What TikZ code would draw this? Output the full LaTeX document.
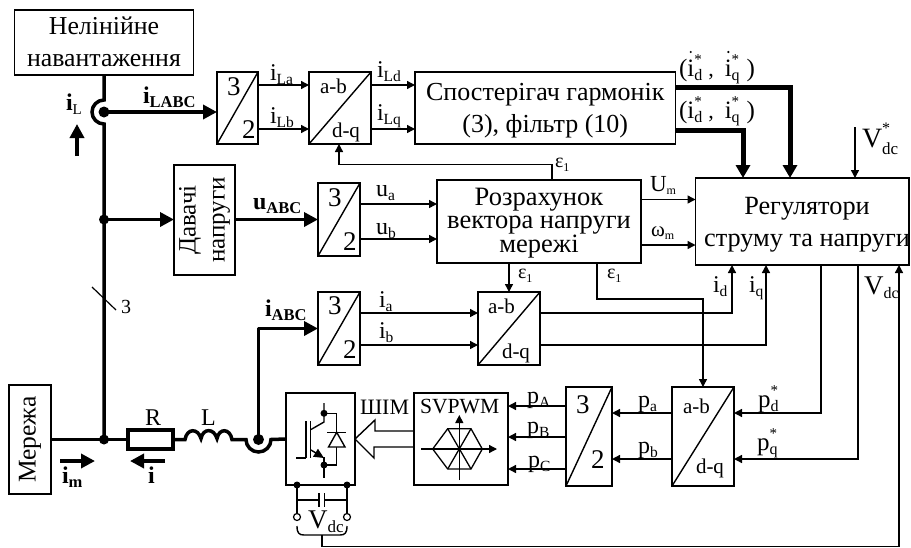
\documentclass[tikz,border=0pt]{standalone}
\usepackage{fontspec}
\setmainfont{Liberation Serif}
\usetikzlibrary{arrows.meta,calc}
\newcommand\fs[1]{\fontsize{#1}{#1}\selectfont}
% base with subscript
\newcommand\lb[2]{{\fs{24}#1\raisebox{-4pt}{\fs{15.5}#2}}}
\newcommand\lbb[2]{{\fs{24}\bfseries #1\raisebox{-4pt}{\fs{16.5}#2}}}
% base, sub, sup
\newcommand\lss[3]{{\fs{25}#1\rlap{\raisebox{12pt}{\fs{15}#3}}\raisebox{-4pt}{\fs{16}#2}}}
\newcommand\eps{{\fs{20}ε\raisebox{-4pt}{\fs{12}1}}}
\tikzset{
  x=1pt,y=-1pt,
  blk/.style={draw,line width=1.8pt,fill=white,inner sep=0pt,outer sep=0pt,align=center},
  lab/.style={inner sep=0pt,outer sep=0pt,anchor=base west},
  thin1/.style={line width=1.4pt},
  arr/.style={line width=1.4pt,-{Triangle[length=8pt,width=8pt]}},
  tarr/.style={line width=3.6pt,-{Triangle[length=14pt,width=14pt]}},
  harr/.style={line width=5pt,-{Triangle[length=13pt,width=14pt]}},
  busl/.style={line width=3.5pt},
  num/.style={lab,font=\fontsize{27}{27}\selectfont},
  abl/.style={lab,font=\fontsize{21}{21}\selectfont},
  txt/.style={inner sep=0pt,outer sep=0pt,align=center},
}
\begin{document}
\begin{tikzpicture}
\useasboundingbox (0,0) rectangle (911,547);
% blocks
\node[blk,font=\fontsize{25.8}{32}\selectfont,minimum width=179pt,minimum height=65pt] (load) at (104,42.25) {Нелінійне\\навантаження};
\node[blk,minimum width=41pt,minimum height=72pt] (tt1) at (237.5,108) {};
\node[blk,minimum width=62pt,minimum height=72pt] (ab1) at (340,108) {};
\node[blk,minimum width=260.5pt,minimum height=72pt] (obs) at (545.25,108) {};
\node[txt,font=\fontsize{26}{32}\selectfont] (obst) at (545.25,110.5) {Спостерігач гармонік\\(3), фільтр (10)};
\node[blk,minimum width=213.5pt,minimum height=87pt] (reg) at (802.25,221.5) {};
\node[txt,font=\fontsize{26.3}{32}\selectfont] (regt) at (807,224.5) {Регулятори\\струму та напруги};
\node[blk,minimum width=204pt,minimum height=83pt] (calc) at (539,221.5) {};
\node[txt,font=\fontsize{26.5}{23.5}\selectfont] (calct) at (539,223) {Розрахунок\\вектора напруги\\мережі};
\node[blk,minimum width=61pt,minimum height=110pt] (dav) at (204.5,220) {};
\node[font=\fontsize{25}{29}\selectfont,rotate=90,align=center,inner sep=0pt] (davt) at (204.5,220) {Давачі\\напруги};
\node[blk,minimum width=42pt,minimum height=73pt] (tt2) at (339,219.5) {};
\node[blk,minimum width=42pt,minimum height=73pt] (tt3) at (339,328.5) {};
\node[blk,minimum width=62pt,minimum height=73pt] (ab3) at (509,328.5) {};
\node[blk,minimum width=62pt,minimum height=99pt] (ab4) at (703,436.5) {};
\node[blk,minimum width=46pt,minimum height=99pt] (tt4) at (589,436.5) {};
\node[blk,minimum width=94pt,minimum height=92pt] (svp) at (461,439) {};
\node[blk,minimum width=69pt,minimum height=92pt] (inv) at (320.5,439) {};
\node[blk,minimum width=42pt,minimum height=109pt] (mains) at (30,439.5) {};
\node[font=\fontsize{25.5}{26}\selectfont,rotate=90,inner sep=0pt] (mainst) at (30,439.5) {Мережа};
% diagonals
\foreach \b in {tt1,ab1,tt2,tt3,ab3,ab4,tt4}{\draw[thin1] (\b.south west) -- (\b.north east);}
% junctions
\coordinate (j0) at (104,112);
\coordinate (j1) at (104,219.5);
\coordinate (j3) at (104,439.5);
\coordinate (j2) at (258.5,439.5);
% main bus
\draw[busl] (load.south) -- ([yshift=12pt]j0) arc[start angle=90,end angle=270,radius=12pt] -- (j3);
\fill (j0) circle[radius=5.5pt];
\fill (j1) circle[radius=5pt];
\fill (j3) circle[radius=5pt];
\draw[busl] (mains.east) -- ++(77,0) coordinate (rw);
\node[draw,line width=3.5pt,fill=white,inner sep=0pt,outer sep=0pt,minimum width=45pt,minimum height=19pt] (rr) at (150.5,439.5) {};
% coil and jump
\draw[busl] (rr.east) -- (185,439.5)
  .. controls (187,428) and (198,428) .. (201,438.5)
  .. controls (203,428) and (214,428) .. (217,438.5)
  .. controls (219,428) and (230,428) .. (232,439.5)
  -- ([xshift=-12.5pt]j2) arc[start angle=180,end angle=360,radius=12.5pt] -- (inv.west);
\fill (j2) circle[radius=5.5pt];
\draw[tarr,line join=round] (j2) |- (tt3.west);
\draw[tarr] (j0) -- (j0 -| tt1.west);
\draw[tarr] (j1) -- (j1 -| dav.west);
\draw[tarr] (j1 -| dav.east) -- (j1 -| tt2.west);
% slash
\coordinate (sa) at (92,287); \coordinate (sb) at (116,310);
\draw[line width=1.2pt] (sa) -- (sb);
% current arrows
\coordinate (ila) at (77,156); \coordinate (ilb) at (77,124);
\coordinate (ima) at (60,461); \coordinate (imb) at (95,461);
\coordinate (ira) at (165,461); \coordinate (irb) at (130,461);
\draw[tarr] (ila) -- (ilb);
\draw[tarr] (ima) -- (imb);
\draw[tarr] (ira) -- (irb);
% thin connectors
\draw[arr] ([yshift=-13pt]tt1.north east) coordinate (a) -- (a -| ab1.west);
\draw[arr] ([yshift=-57pt]tt1.north east) coordinate (a) -- (a -| ab1.west);
\draw[arr] ([yshift=-13pt]ab1.north east) coordinate (a) -- (a -| obs.west);
\draw[arr] ([yshift=-57pt]ab1.north east) coordinate (a) -- (a -| obs.west);
\draw[harr] ([yshift=-15pt]obs.north east) -| ([xshift=94.5pt]reg.north west);
\draw[harr] ([yshift=-58pt]obs.north east) -| ([xshift=47.5pt]reg.north west);
\coordinate (vs) at (855,127);
\draw[arr] (vs) -- (vs |- reg.north);
\draw[arr] ([xshift=115pt]calc.north west) -- ++(0,-15.5) -| ([xshift=30pt]ab1.south west);
\draw[arr] ([yshift=-21pt]tt2.north east) coordinate (a) -- (a -| calc.west);
\draw[arr] ([yshift=-56pt]tt2.north east) coordinate (a) -- (a -| calc.west);
\draw[arr] ([yshift=-19.5pt]calc.north east) coordinate (a) -- (a -| reg.west);
\draw[arr] ([yshift=-65pt]calc.north east) coordinate (a) -- (a -| reg.west);
\draw[arr] (ab3.north |- calc.south) -- (ab3.north);
\draw[arr] ([xshift=160pt]calc.south west) -- ++(0,36) -| (ab4.north);
\draw[arr] ([yshift=-21pt]tt3.north east) coordinate (a) -- (a -| ab3.west);
\draw[arr] ([yshift=-53pt]tt3.north east) coordinate (a) -- (a -| ab3.west);
\draw[arr] ([yshift=-21pt]ab3.north east) -| ([xshift=36.5pt]reg.south west);
\draw[arr] ([yshift=-53pt]ab3.north east) -| ([xshift=70.5pt]reg.south west);
\draw[arr] ([xshift=125.5pt]reg.south west) |- ([yshift=-26pt]ab4.north east);
\draw[arr] ([xshift=162.5pt]reg.south west) |- ([yshift=-72pt]ab4.north east);
\draw[arr] ([yshift=-26pt]ab4.north west) coordinate (a) -- (a -| tt4.east);
\draw[arr] ([yshift=-72pt]ab4.north west) coordinate (a) -- (a -| tt4.east);
\draw[arr] ([yshift=-19pt]tt4.north west) coordinate (a) -- (a -| svp.east);
\draw[arr] ([yshift=-50pt]tt4.north west) coordinate (a) -- (a -| svp.east);
\draw[arr] ([yshift=-82pt]tt4.north west) coordinate (a) -- (a -| svp.east);
% hollow arrow
\draw[thin1,line join=miter] ([yshift=8pt]svp.west) -- ++(-39,0) -- ++(0,-11) -- (inv.east) -- ++(19,19) -- ++(0,-11) -- ([yshift=-8pt]svp.west);
% SVPWM icon
\draw[line width=1.3pt] (432.7,449) -- (447.7,428.7) -- (471,428.7) -- (482.3,449) -- (471,469) -- (447.7,469) -- cycle;
\draw[line width=1.3pt] (447.7,428.7) -- (471,469) (471,428.7) -- (447.7,469);
\draw[arr,line width=1.3pt] (421,449) -- (497,449);
\draw[arr,line width=1.3pt] (459.3,480) -- (459.3,415);
% IGBT
\draw[thin1] (324,403) -- (324,422) -- (311,429.5);
\draw[thin1] (306,421) -- (306,458) (310.5,421) -- (310.5,458);
\draw[thin1] (296,458) -- (306,458);
\draw[thin1,-{Triangle[length=10pt,width=9pt]}] (311,450) -- (324,458);
\draw[thin1] (324,457) -- (324,478);
\draw[thin1] (324,413.3) -- (336.7,413.3) -- (336.7,465) -- (324,465);
\draw[thin1,fill=white] (336.7,432.3) -- (328.5,447) -- (345,447) -- cycle;
\draw[thin1] (327,432.3) -- (346,432.3);
\fill (324,413.3) circle[radius=3.5pt];
\fill (324,465) circle[radius=3.5pt];
% capacitor and terminals
\coordinate (k1) at ([xshift=11pt]inv.south west);
\coordinate (k2) at ([xshift=61pt]inv.south west);
\coordinate (t1) at (297,517); \coordinate (t2) at (347,517);
\draw[thin1] (k1) -- (t1) (k2) -- (t2);
\draw[thin1] (297,500) -- (319,500) (319,493) -- (319,507) (324.5,493) -- (324.5,507) (324.5,500) -- (347,500);
\fill (k1) circle[radius=3.5pt];
\fill (k2) circle[radius=3.5pt];
\draw[line width=1.2pt,fill=white] (t1) circle[radius=3.5pt];
\draw[line width=1.2pt,fill=white] (t2) circle[radius=3.5pt];
\draw[thin1] (297,526) .. controls (297,533) and (299,535) .. (304,535) -- (340,535) .. controls (345,535) and (347,533) .. (347,526);
\coordinate (fb) at (322,535);
\draw[arr] (fb) |- (600,546.2) -| ([xshift=203.5pt]reg.south west);
% numerals in converters
\node[num] (n1) at (227,95) {3}; \node[num] (n2) at (242,138) {2};
\node[num] (n3) at (328,206) {3}; \node[num] (n4) at (343,250) {2};
\node[num] (n5) at (328,314) {3}; \node[num] (n6) at (343,358) {2};
\node[num] (n7) at (576,413) {3}; \node[num] (n8) at (591,468) {2};
\node[abl] (a1) at (320,93) {a-b}; \node[abl] (d1) at (332,137) {d-q};
\node[abl] (a3) at (488,313) {a-b}; \node[abl] (d3) at (502,358) {d-q};
\node[abl] (a4) at (683,413) {a-b}; \node[abl] (d4) at (696,473) {d-q};
% labels
\node[lab] (l1) at (66,110) {\lbb{i}{\fs{15}\normalfont L}};
\node[lab] (l2) at (143,103) {\lbb{i}{LABC}};
\node[lab] (l3) at (270,80) {\lb{i}{La}};
\node[lab] (l4) at (270,123) {\lb{i}{Lb}};
\node[lab] (l5) at (377,77) {\lb{i}{Ld}};
\node[lab] (l6) at (377,120) {\lb{i}{Lq}};
\node[lab] (l7) at (679,76.5) {{\fs{25}(}\lss{i}{d}{*}\hspace{6pt}{\fs{22},}\hspace{11pt}\lss{i}{q}{*}\hspace{7pt}{\fs{25})}};
\fill (690.7,52) circle[radius=1.2pt];
\fill (728.3,52) circle[radius=1.2pt];
\node[lab] (l8) at (679,118) {{\fs{25}(}\lss{i}{d}{*}\hspace{6pt}{\fs{22},}\hspace{11pt}\lss{i}{q}{*}\hspace{7pt}{\fs{25})}};
\node[lab] (l9) at (862,147) {{\fs{28}V}\rlap{\raisebox{14pt}{\fs{16}*}}\raisebox{-7pt}{\fs{17}dc}};
\node[lab] (l10) at (650,191) {{\fs{23}U}\raisebox{-3pt}{\fs{12}m}};
\node[lab] (l11) at (651,236) {{\fs{21}ω}\raisebox{-3pt}{\fs{12}m}};
\node[lab] (l12) at (253,209) {\lbb{u}{ABC}};
\node[lab] (l13) at (376,196) {\lb{u}{a}};
\node[lab] (l14) at (376,234) {\lb{u}{b}};
\node[lab] (l15) at (265,316) {\lbb{i}{ABC}};
\node[lab] (l16) at (379,307) {\lb{i}{a}};
\node[lab] (l17) at (379,338) {\lb{i}{b}};
\node[lab] (l18) at (555,167) {\eps};
\node[lab] (l19) at (518,278) {\eps};
\node[lab] (l20) at (607,278) {\eps};
\node[lab] (l21) at (713,292) {\lb{i}{d}};
\node[lab] (l22) at (749,292) {\lb{i}{q}};
\node[lab] (l23) at (864,294) {{\fs{27}V}\raisebox{-4pt}{\fs{16}dc}};
\node[lab] (l24) at (758,407) {\lss{p}{d}{*}};
\node[lab] (l25) at (757,450) {\lss{p}{q}{*}};
\node[lab] (l26) at (638,407) {\lb{p}{a}};
\node[lab] (l27) at (638,453) {\lb{p}{b}};
\node[lab] (l28) at (527,403) {\lb{p}{A}};
\node[lab] (l29) at (527,433) {\lb{p}{B}};
\node[lab] (l30) at (528,467) {\lb{p}{C}};
\node[lab] (l31) at (62,483) {\lbb{i}{m}};
\node[lab] (l32) at (148,483) {\lbb{i}{}};
\node[lab,font=\fontsize{22}{22}\selectfont] (l33) at (360,414) {ШІМ};
\node[lab,font=\fontsize{24}{24}\selectfont] (l34) at (145,425) {R};
\node[lab,font=\fontsize{24}{24}\selectfont] (l35) at (201,425) {L};
\node[lab,font=\fontsize{20}{20}\selectfont] (l36) at (121,313) {3};
\node[lab] (l37) at (308,528) {{\fs{27}V}\raisebox{-4pt}{\fs{17}dc}};
\node[lab,font=\fontsize{21.6}{22}\selectfont] (l38) at (420,413) {SVPWM};
\end{tikzpicture}
\end{document}
